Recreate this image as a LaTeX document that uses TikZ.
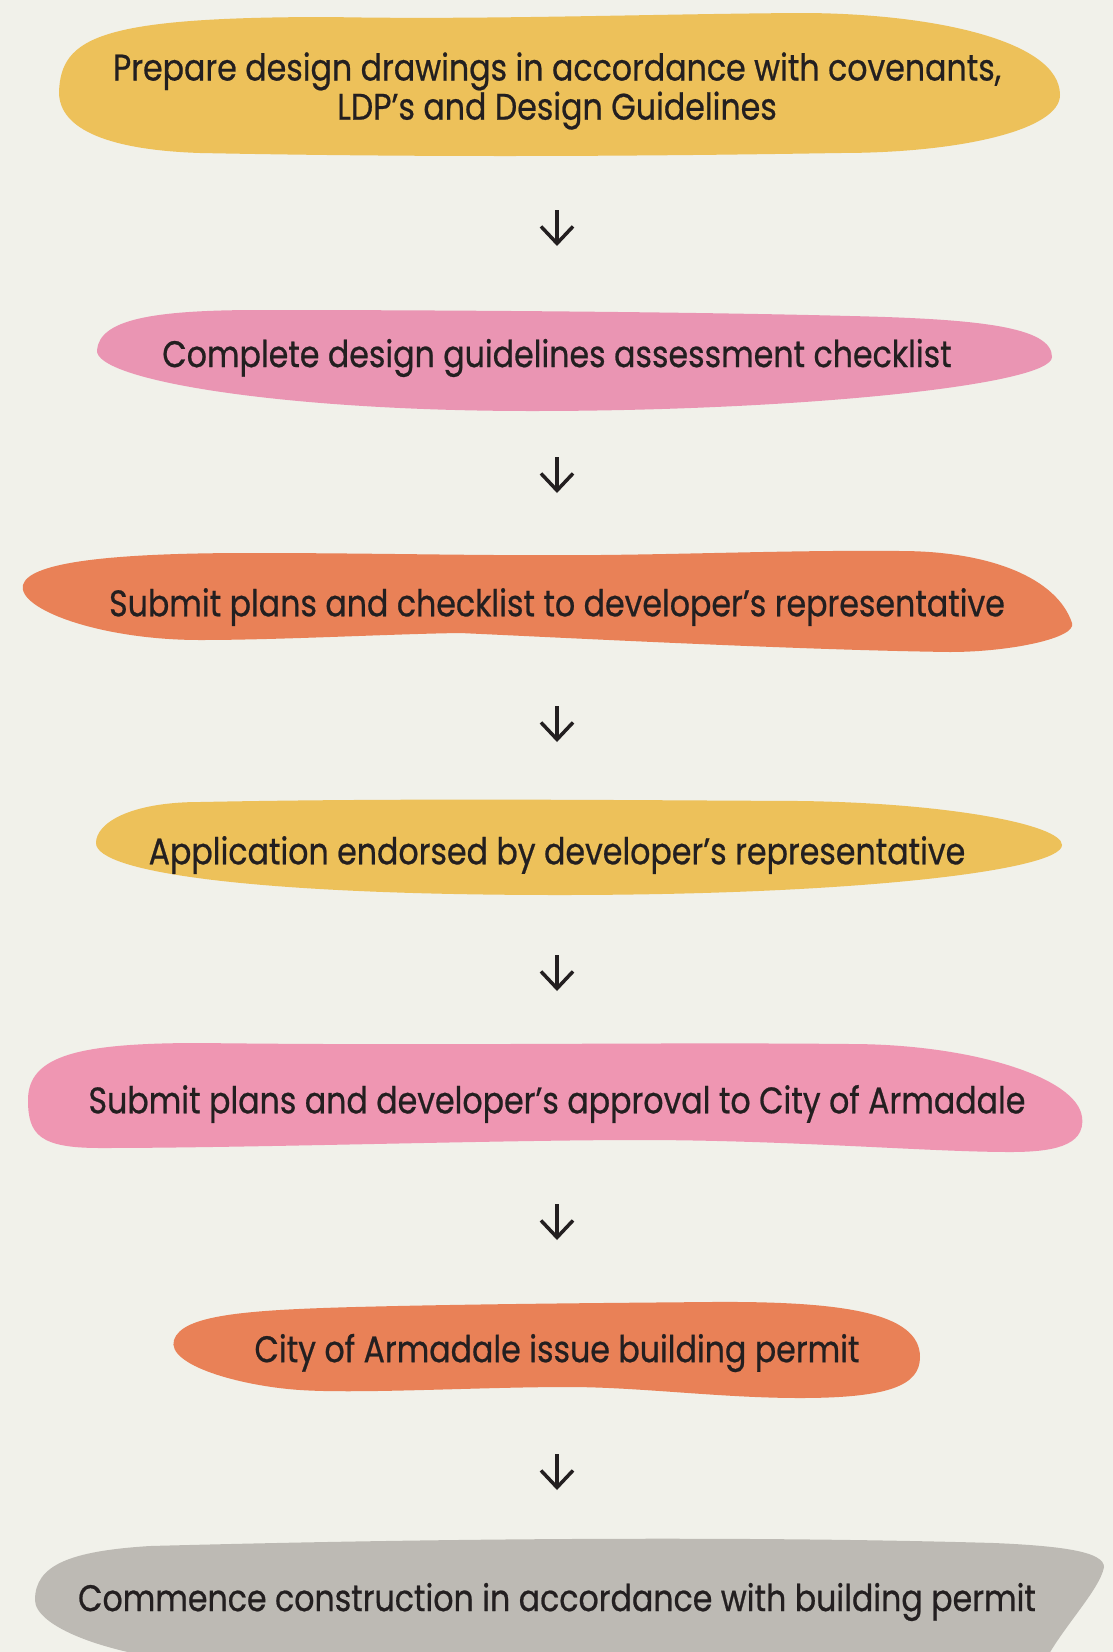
\documentclass[tikz,border=0pt]{standalone}
\usepackage{fontspec}
\setmainfont{Poppins}[FakeStretch=0.855,FakeBold=0.6]
\usetikzlibrary{arrows.meta}
\definecolor{bg}{HTML}{F1F1EA}
\definecolor{cyellow}{HTML}{EDC15A}
\definecolor{cpink}{HTML}{EA95B3}
\definecolor{cpinkb}{HTML}{EF96B2}
\definecolor{corange}{HTML}{E98157}
\definecolor{cgray}{HTML}{BDBAB4}
\definecolor{ink}{HTML}{231F20}
\tikzset{
  lbl/.style={text=ink, font=\fontsize{37}{38}\selectfont, align=center, inner sep=0pt},
  arr/.style={draw=ink, line width=3.5pt, -{Straight Barb[length=17pt,width=32pt,line width=3.5pt]}}
}
\begin{document}
\begin{tikzpicture}[x=1pt,y=-1pt]
\fill[bg] (0,0) rectangle (1113,1652);
\useasboundingbox (0,0) rectangle (1113,1652);
% blob 1 (yellow)
\fill[cyellow] (59,92) .. controls (61,37) and (100,17) .. (330,17)
  .. controls (480,20) and (650,14) .. (800,13)
  .. controls (930,13) and (1060,40) .. (1060,95)
  .. controls (1060,130) and (960,153) .. (840,153)
  .. controls (600,157) and (400,157) .. (200,153)
  .. controls (110,150) and (59,130) .. cycle;
% blob 2 (pink)
\fill[cpink] (97,350) .. controls (100,320) and (150,310) .. (260,310)
  .. controls (450,310) and (700,312) .. (850,316)
  .. controls (980,319) and (1052,327) .. (1052,357)
  .. controls (1052,385) and (800,411) .. (532,411)
  .. controls (282,411) and (94,380) .. cycle;
% blob 3 (orange)
\fill[corange] (23,585) .. controls (29,561) and (120,553) .. (250,553)
  .. controls (380,553) and (480,556) .. (600,555)
  .. controls (700,554) and (800,550) .. (900,551)
  .. controls (990,551) and (1057,578) .. (1072,623)
  .. controls (1077,638) and (1010,652) .. (950,652)
  .. controls (800,650) and (570,638) .. (460,633)
  .. controls (390,634) and (280,640) .. (200,640)
  .. controls (100,640) and (17,609) .. cycle;
% blob 4 (yellow)
\fill[cyellow] (96,843) .. controls (96,823) and (130,802) .. (200,802)
  .. controls (400,798) and (600,800) .. (800,801)
  .. controls (950,803) and (1062,825) .. (1062,845)
  .. controls (1062,870) and (860,895) .. (560,895)
  .. controls (260,895) and (96,873) .. cycle;
% blob 5 (pink)
\fill[cpinkb] (28,1100) .. controls (28,1055) and (80,1043) .. (200,1043)
  .. controls (450,1046) and (650,1042) .. (850,1044)
  .. controls (970,1044) and (1077,1077) .. (1082,1117)
  .. controls (1086,1147) and (1050,1152) .. (1010,1152)
  .. controls (930,1152) and (789,1140) .. (639,1140)
  .. controls (500,1140) and (250,1148) .. (100,1148)
  .. controls (40,1148) and (28,1135) .. cycle;
% blob 6 (orange)
\fill[corange] (174,1340) .. controls (182,1315) and (245,1310) .. (355,1307)
  .. controls (470,1304) and (600,1303) .. (710,1302)
  .. controls (840,1301) and (920,1312) .. (920,1357)
  .. controls (920,1385) and (890,1398) .. (800,1398)
  .. controls (720,1398) and (640,1387) .. (568,1387)
  .. controls (480,1387) and (360,1394) .. (300,1390)
  .. controls (240,1386) and (166,1365) .. cycle;
% blob 7 (gray)
\fill[cgray] (35,1600) .. controls (35,1565) and (70,1551) .. (150,1546)
  .. controls (450,1538) and (750,1536) .. (994,1543)
  .. controls (1064,1546) and (1104,1552) .. (1104,1567)
  .. controls (1100,1590) and (1060,1630) .. (1043,1665)
  -- (213,1665)
  .. controls (100,1655) and (35,1625) .. cycle;
% labels
\node[lbl] (s1) at (557,91) {Prepare design drawings in accordance with covenants,\\LDP’s and Design Guidelines};
\node[lbl] (s2) at (557,358) {Complete design guidelines assessment checklist};
\node[lbl] (s3) at (557,607) {Submit plans and checklist to developer’s representative};
\node[lbl] (s4) at (557,855) {Application endorsed by developer’s representative};
\node[lbl] (s5) at (557,1104) {Submit plans and developer’s approval to City of Armadale};
\node[lbl] (s6) at (557,1353) {City of Armadale issue building permit};
\node[lbl] (s7) at (557,1602) {Commence construction in accordance with building permit};
% arrows
\foreach \i/\y in {1/210,2/457,3/706,4/955,5/1204,6/1454}{
  \coordinate (a\i s) at (557,\y);
  \coordinate (a\i e) at (557,\y+36);
  \draw[arr] (a\i s) -- (a\i e);
}
\end{tikzpicture}
\end{document}
